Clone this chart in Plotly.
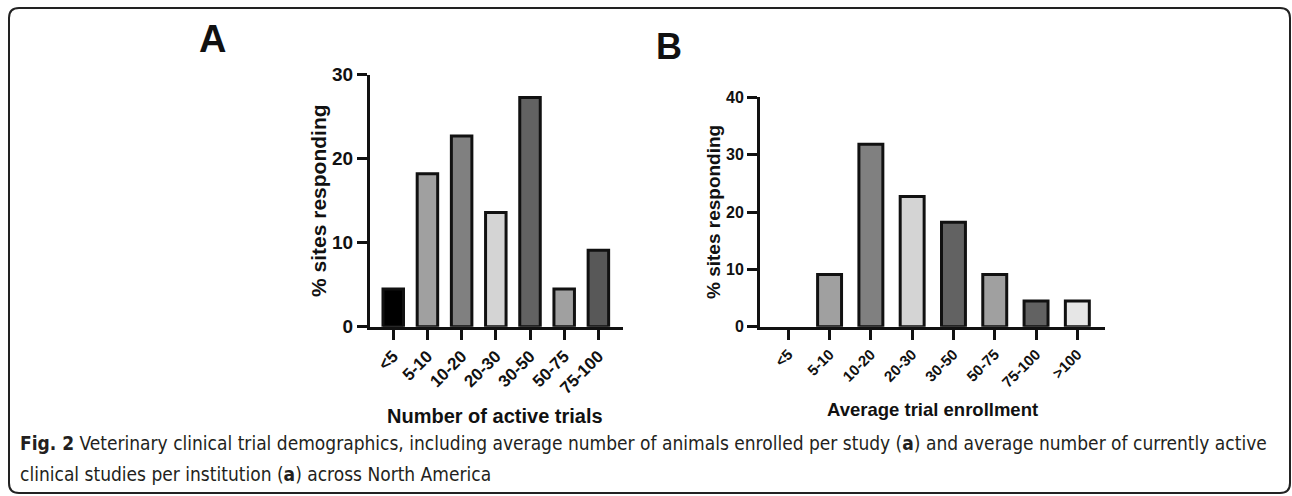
import plotly.graph_objects as go

W, H = 1292, 496

# ---- data ----
cats_a = ["<5", "5-10", "10-20", "20-30", "30-50", "50-75", "75-100"]
vals_a = [4.5, 18.2, 22.7, 13.6, 27.3, 4.5, 9.1]
colors_a = ["#000000", "#a0a0a0", "#808080", "#d4d4d4", "#626262", "#a0a0a0", "#585858"]

cats_b = ["<5", "5-10", "10-20", "20-30", "30-50", "50-75", "75-100", ">100"]
vals_b = [0, 9.1, 31.8, 22.7, 18.2, 9.1, 4.5, 4.5]
colors_b = ["#ffffff", "#a0a0a0", "#808080", "#d4d4d4", "#626262", "#a0a0a0", "#626262", "#e6e6e6"]

yticks_a = [0, 10, 20, 30]
yticks_b = [0, 10, 20, 30, 40]

title_a = "Number of active trials"
title_b = "Average trial enrollment"
ytitle = "% sites responding"
caption1 = "<b>Fig. 2</b> Veterinary clinical trial demographics, including average number of animals enrolled per study (<b>a</b>) and average number of currently active"
caption2 = "clinical studies per institution (<b>a</b>) across North America"

FONT = "Liberation Sans, Arial, sans-serif"


def px(x):
    return x / W


def py(y):
    return 1 - y / H


fig = go.Figure()
fig.add_trace(go.Bar(x=cats_a, y=vals_a,
                     marker=dict(color=colors_a, line=dict(color="#111", width=3)),
                     width=0.6, xaxis="x", yaxis="y", showlegend=False, hoverinfo="x+y"))
fig.add_trace(go.Bar(x=cats_b, y=vals_b,
                     marker=dict(color=colors_b,
                                 line=dict(color="#111", width=[3 if v > 0 else 0 for v in vals_b])),
                     width=0.58, xaxis="x2", yaxis="y2", showlegend=False, hoverinfo="x+y"))

axis_common = dict(showline=True, linecolor="#111", linewidth=3, ticks="outside", ticklen=10,
                   tickwidth=2.5, tickcolor="#111", showgrid=False, zeroline=False, fixedrange=True,
                   automargin=False)

fig.update_layout(
    template="none",
    width=W, height=H, autosize=False,
    margin=dict(l=0, r=0, t=0, b=0, pad=0, autoexpand=False),
    paper_bgcolor="white", plot_bgcolor="white",
    xaxis=dict(domain=[px(370), px(623)], range=[-0.68, 6.72], anchor="y", tickangle=-45,
               tickfont=dict(family=FONT, size=17, color="#111", weight="bold"), type="category",
               **axis_common),
    yaxis=dict(domain=[py(326.7), py(74.7)], range=[0, 30], anchor="x", tickvals=yticks_a,
               tickfont=dict(family=FONT, size=19, color="#111", weight="bold"), **axis_common),
    xaxis2=dict(domain=[px(760), px(1105)], range=[-0.685, 7.67], anchor="y2", tickangle=-45,
                tickfont=dict(family=FONT, size=15, color="#111", weight="bold"), type="category",
                **axis_common),
    yaxis2=dict(domain=[py(326.7), py(97.3)], range=[0, 40], anchor="x2", tickvals=yticks_b,
                tickfont=dict(family=FONT, size=16, color="#111", weight="bold"), **axis_common),
)

ann = []
ann.append(dict(text="<b>A</b>", x=px(212), y=py(39), font=dict(family=FONT, size=38, color="#111")))
ann.append(dict(text="<b>B</b>", x=px(669), y=py(46), font=dict(family=FONT, size=36, color="#111")))
ann.append(dict(text="<b>" + ytitle + "</b>", x=px(318), y=py(201), textangle=-90,
                font=dict(family=FONT, size=21, color="#111")))
ann.append(dict(text="<b>" + ytitle + "</b>", x=px(713), y=py(212), textangle=-90,
                font=dict(family=FONT, size=19, color="#111")))
ann.append(dict(text="<b>" + title_a + "</b>", x=px(495), y=py(416),
                font=dict(family=FONT, size=20, color="#111")))
ann.append(dict(text="<b>" + title_b + "</b>", x=px(932), y=py(409),
                font=dict(family=FONT, size=18.5, color="#111")))
for a in ann:
    a.update(xref="paper", yref="paper", showarrow=False, xanchor="center", yanchor="middle")

cap_font = dict(family="DejaVu Sans Condensed, Liberation Sans Narrow, sans-serif", size=19, color="#231f20")
ann.append(dict(text=caption1, x=px(18), y=py(443), xref="paper", yref="paper", showarrow=False,
                xanchor="left", yanchor="middle", font=cap_font))
ann.append(dict(text=caption2, x=px(18), y=py(474), xref="paper", yref="paper", showarrow=False,
                xanchor="left", yanchor="middle", font=cap_font))
fig.update_layout(annotations=ann)

# rounded frame around the figure panel
r = 10
x0, y0, x1, y1 = px(9), py(8), px(1290), py(493)
rx, ry = r / W, r / H
path = (f"M {x0+rx},{y0} L {x1-rx},{y0} Q {x1},{y0} {x1},{y0-ry} "
        f"L {x1},{y1+ry} Q {x1},{y1} {x1-rx},{y1} L {x0+rx},{y1} Q {x0},{y1} {x0},{y1+ry} "
        f"L {x0},{y0-ry} Q {x0},{y0} {x0+rx},{y0} Z")
fig.add_shape(type="path", path=path, xref="paper", yref="paper", line=dict(color="#222", width=2),
              fillcolor="rgba(0,0,0,0)", layer="below")

post = ("var gd=document.getElementById('{plot_id}');"
        "gd.style.position='fixed';gd.style.left='0px';gd.style.top='0px';"
        "document.body.style.margin='0';document.body.style.padding='0';"
        "document.documentElement.style.margin='0';document.documentElement.style.overflow='hidden';")
fig.write_html("out.html", config={"displayModeBar": False}, post_script=post)
